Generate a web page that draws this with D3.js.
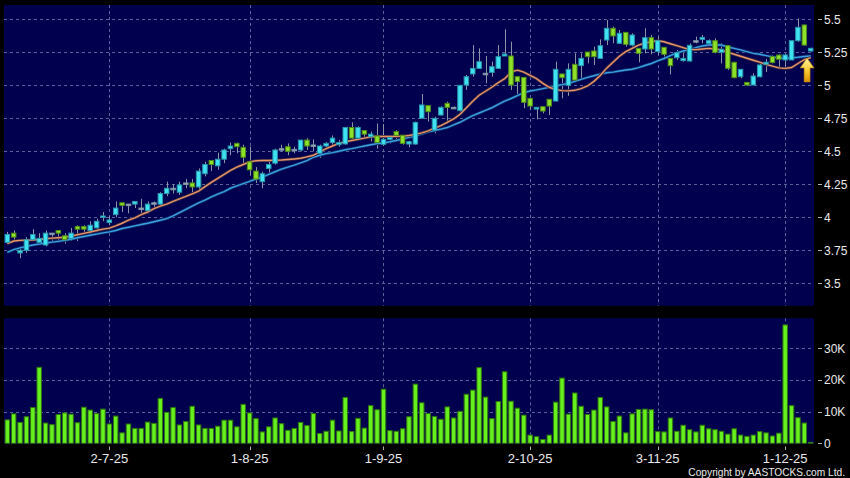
<!DOCTYPE html>
<html><head><meta charset="utf-8">
<script src="https://cdn.jsdelivr.net/npm/d3@7/dist/d3.min.js"></script>
<style>
html,body{margin:0;padding:0;background:#000;}
svg{display:block;}
</style></head><body>
<svg id="chart" width="850" height="478"></svg>
<script>
// ---- data ----
const opens = [3.81,3.88,3.73,3.75,3.83,3.81,3.79,3.88,3.90,3.86,3.84,3.93,3.93,3.90,3.92,4.00,3.96,4.02,4.11,4.10,4.10,4.07,4.05,4.11,4.10,4.18,4.22,4.19,4.26,4.26,4.23,4.33,4.43,4.39,4.44,4.52,4.56,4.53,4.42,4.35,4.27,4.37,4.41,4.52,4.535,4.515,4.51,4.585,4.548,4.485,4.54,4.566,4.55,4.556,4.68,4.60,4.657,4.61,4.616,4.553,4.59,4.649,4.621,4.555,4.555,4.75,4.846,4.661,4.775,4.863,4.833,4.808,5.002,5.086,5.128,5.091,5.098,5.128,5.222,5.222,5.065,5.060,4.901,4.82,4.838,4.894,4.881,5.086,5.0,5.159,5.149,5.252,5.26,5.204,5.343,5.432,5.318,5.401,5.305,5.280,5.275,5.361,5.255,5.288,5.204,5.209,5.187,5.184,5.338,5.348,5.318,5.338,5.25,5.30,5.174,5.065,5.022,5.002,5.065,5.16,5.217,5.229,5.192,5.192,5.338,5.457,5.26];
const highs = [3.89,3.90,3.78,3.85,3.91,3.88,3.90,3.88,3.90,3.88,3.92,3.94,3.94,3.97,3.99,4.04,4.01,4.12,4.11,4.10,4.12,4.14,4.12,4.12,4.19,4.27,4.25,4.27,4.29,4.29,4.37,4.42,4.43,4.49,4.52,4.566,4.566,4.55,4.535,4.38,4.346,4.42,4.52,4.55,4.56,4.535,4.586,4.60,4.59,4.55,4.57,4.62,4.586,4.685,4.72,4.69,4.657,4.65,4.71,4.707,4.62,4.66,4.625,4.58,4.725,4.934,4.846,4.762,4.84,4.876,4.84,5.002,5.078,5.305,5.28,5.222,5.179,5.305,5.424,5.33,5.065,5.06,4.901,4.833,4.838,4.894,5.179,5.086,5.166,5.242,5.242,5.252,5.293,5.348,5.495,5.444,5.419,5.401,5.394,5.280,5.432,5.381,5.369,5.288,5.204,5.267,5.255,5.318,5.369,5.381,5.348,5.356,5.318,5.30,5.179,5.121,5.025,5.091,5.17,5.20,5.23,5.235,5.235,5.34,5.507,5.46,5.285];
const lows = [3.80,3.83,3.69,3.73,3.82,3.79,3.78,3.82,3.82,3.80,3.82,3.82,3.87,3.87,3.89,3.97,3.94,4.00,4.04,4.03,4.07,4.03,4.03,4.06,4.09,4.16,4.18,4.17,4.22,4.19,4.21,4.31,4.35,4.36,4.41,4.47,4.485,4.40,4.32,4.26,4.22,4.33,4.40,4.50,4.47,4.485,4.50,4.51,4.50,4.45,4.51,4.535,4.535,4.55,4.595,4.586,4.61,4.575,4.52,4.54,4.56,4.58,4.55,4.53,4.55,4.75,4.725,4.636,4.77,4.707,4.82,4.80,4.965,5.065,5.128,5.015,5.065,5.128,5.222,4.965,4.926,4.826,4.813,4.742,4.788,4.775,4.876,4.901,4.92,5.035,5.053,5.166,5.154,5.204,5.305,5.318,5.318,5.293,5.293,5.174,5.242,5.235,5.23,5.217,5.083,5.192,5.179,5.179,5.318,5.318,5.305,5.242,5.166,5.116,5.053,5.053,4.995,5.002,5.06,5.10,5.166,5.13,5.14,5.19,5.33,5.30,5.255];
const closes = [3.87,3.85,3.75,3.83,3.87,3.84,3.88,3.88,3.88,3.83,3.88,3.91,3.91,3.94,3.97,4.01,3.98,4.07,4.09,4.10,4.12,4.07,4.10,4.11,4.18,4.22,4.22,4.245,4.26,4.23,4.35,4.40,4.40,4.44,4.51,4.54,4.535,4.455,4.36,4.29,4.33,4.40,4.51,4.52,4.50,4.515,4.585,4.54,4.548,4.54,4.56,4.60,4.566,4.68,4.60,4.68,4.63,4.63,4.566,4.591,4.605,4.621,4.560,4.573,4.719,4.851,4.80,4.75,4.833,4.833,4.833,5.0,5.065,5.128,5.179,5.091,5.141,5.217,5.237,5.002,5.028,4.871,4.843,4.833,4.805,4.843,5.121,5.058,5.121,5.040,5.204,5.217,5.217,5.30,5.432,5.374,5.394,5.310,5.381,5.242,5.361,5.275,5.338,5.235,5.149,5.247,5.204,5.303,5.338,5.363,5.338,5.250,5.273,5.129,5.058,5.121,5.002,5.070,5.154,5.175,5.172,5.197,5.23,5.338,5.439,5.305,5.28];
const volumes = [7400,9300,6600,8400,11300,24000,6400,5900,9100,9600,9200,6500,11400,10500,9400,10800,6100,8600,3300,6100,4700,4700,6700,6300,14200,9800,11300,5800,6900,11700,5800,4700,4700,5400,7300,7300,5200,12300,9600,7800,3600,5200,8000,
  6200,4100,4700,6600,5600,9400,3100,3800,7300,3900,14500,3700,7900,4800,11900,10600,
  17100,4000,3800,4600,8400,18700,12800,9400,8500,7600,11500,8000,10100,15500,16800,23900,14600,7800,13200,22600,13300,11100,8900,2600,2100,
  1200,2600,13000,20600,9200,15900,11700,9100,10500,14500,11500,6900,8600,3300,9300,10700,10800,10600,3700,3600,8000,3800,5700,4300,3600,5700,4600,4300,3800,2900,4600,2600,2200,2600,3700,3300,2300,3200,37400,11900,8100,6400,300];
const ma10 = [3.80,3.82,3.825,3.827,3.828,3.832,3.838,3.842,3.845,3.849,3.857,3.868,3.878,3.889,3.900,3.910,3.918,3.935,3.955,3.978,3.995,4.02,4.04,4.065,4.085,4.10,4.12,4.14,4.158,4.178,4.198,4.232,4.265,4.295,4.325,4.355,4.38,4.40,4.42,4.428,4.43,4.43,4.432,4.434,4.438,4.442,4.447,4.458,4.47,4.495,4.52,4.54,4.56,4.572,4.582,4.59,4.60,4.61,4.612,4.613,4.612,4.613,4.615,4.62,4.628,4.64,4.655,4.675,4.695,4.72,4.745,4.78,4.83,4.88,4.925,4.955,4.985,5.02,5.05,5.10,5.115,5.10,5.075,5.05,5.015,4.985,4.967,4.96,4.958,4.962,4.975,4.995,5.03,5.075,5.13,5.175,5.22,5.255,5.28,5.305,5.32,5.33,5.337,5.33,5.315,5.30,5.285,5.27,5.27,5.275,5.28,5.275,5.268,5.25,5.235,5.22,5.205,5.19,5.175,5.158,5.145,5.132,5.128,5.135,5.165,5.195,5.21];
const ma20 = [3.735,3.755,3.768,3.78,3.79,3.797,3.805,3.812,3.818,3.825,3.834,3.845,3.855,3.864,3.873,3.882,3.89,3.90,3.915,3.925,3.935,3.945,3.955,3.966,3.978,3.99,4.01,4.035,4.06,4.085,4.11,4.13,4.155,4.175,4.195,4.22,4.238,4.255,4.272,4.29,4.305,4.325,4.345,4.365,4.38,4.395,4.412,4.43,4.455,4.47,4.482,4.49,4.50,4.512,4.52,4.53,4.54,4.55,4.558,4.563,4.572,4.582,4.593,4.605,4.618,4.633,4.648,4.658,4.668,4.68,4.70,4.72,4.745,4.77,4.79,4.81,4.83,4.855,4.88,4.90,4.922,4.945,4.957,4.965,4.975,4.985,4.995,5.005,5.015,5.03,5.045,5.06,5.072,5.085,5.095,5.10,5.108,5.116,5.122,5.134,5.15,5.165,5.185,5.203,5.225,5.245,5.26,5.27,5.285,5.298,5.305,5.307,5.305,5.29,5.28,5.268,5.255,5.242,5.235,5.225,5.215,5.207,5.205,5.208,5.212,5.218,5.222];
const priceTicks = [3.5,3.75,4,4.25,4.5,4.75,5,5.25,5.5];
const priceTickLabels = ["3.5","3.75","4","4.25","4.5","4.75","5","5.25","5.5"];
const volumeTicks = [0,10000,20000,30000];
const volumeTickLabels = ["0","10K","20K","30K"];
const dateTickIndex = [16,38,59,82,102,122];
const dateTickLabels = ["2-7-25","1-8-25","1-9-25","2-10-25","3-11-25","1-12-25"];
const signalLevel = 5.207; // yellow arrow tip on the last bar

// ---- layout ----
const svg = d3.select("#chart");
const W = 850, H = 478;
const P = {left:4, right:814, top:5, bottom:305.7};
const V = {top:318.3, bottom:443.8};
const FONT = "'Liberation Sans', Arial, sans-serif";
const NAVY = "#00004e";

const bars = d3.range(opens.length);
const x = d3.scaleBand().domain(bars).range([P.left, P.right]).paddingInner(0.14).paddingOuter(0.09);
const bw = x.bandwidth();
const cx = i => x(i) + bw / 2;
const y = d3.scaleLinear().domain([3.5, 5.5]).range([283.3, 19.3]);
const yv = d3.scaleLinear().domain([0, 39500]).range([443.3, 318.3]);

svg.append("rect").attr("width", W).attr("height", H).attr("fill", "#000");
const defs = svg.append("defs");
defs.append("clipPath").attr("id","cp").append("rect")
  .attr("x",P.left).attr("y",P.top).attr("width",P.right-P.left).attr("height",P.bottom-P.top);
defs.append("clipPath").attr("id","cv").append("rect")
  .attr("x",P.left).attr("y",V.top).attr("width",P.right-P.left).attr("height",V.bottom-V.top);
const grad = defs.append("linearGradient").attr("id","ag").attr("x1",0).attr("y1",0).attr("x2",0).attr("y2",1);
grad.append("stop").attr("offset","0%").attr("stop-color","#fff4a0");
grad.append("stop").attr("offset","55%").attr("stop-color","#f7c830");
grad.append("stop").attr("offset","100%").attr("stop-color","#d89000");

svg.append("rect").attr("x",P.left).attr("y",P.top).attr("width",P.right-P.left).attr("height",P.bottom-P.top).attr("fill",NAVY);
svg.append("rect").attr("x",P.left).attr("y",V.top).attr("width",P.right-P.left).attr("height",V.bottom-V.top).attr("fill",NAVY);

const GRID = "#56639a";
// horizontal grid (price)
svg.append("g").selectAll("line").data(priceTicks).join("line")
  .attr("x1",P.left).attr("x2",P.right).attr("y1",d=>Math.round(y(d))+0.5).attr("y2",d=>Math.round(y(d))+0.5)
  .attr("stroke",GRID).attr("stroke-dasharray","3,3");
// horizontal grid (volume)
svg.append("g").selectAll("line").data(volumeTicks.slice(1)).join("line")
  .attr("x1",P.left).attr("x2",P.right).attr("y1",d=>Math.round(yv(d))+0.5).attr("y2",d=>Math.round(yv(d))+0.5)
  .attr("stroke",GRID).attr("stroke-dasharray","3,3");
// vertical grid
[[P.top,P.bottom],[V.top,V.bottom]].forEach(([a,b])=>{
  svg.append("g").selectAll("line").data(dateTickIndex).join("line")
    .attr("x1",i=>Math.round(cx(i))+0.5).attr("x2",i=>Math.round(cx(i))+0.5).attr("y1",a).attr("y2",b)
    .attr("stroke",GRID).attr("stroke-dasharray","3,3");
});

// ---- candles ----
const UPF="#3ee2f2", UPS="#2a96ac", DNF="#8ee22a", DNS="#4f8c1a", FLF="#9fb4c6";
const gp = svg.append("g").attr("clip-path","url(#cp)");
gp.append("g").selectAll("line").data(bars).join("line")
  .attr("x1",i=>Math.round(cx(i))+0.5).attr("x2",i=>Math.round(cx(i))+0.5)
  .attr("y1",i=>y(highs[i])).attr("y2",i=>y(lows[i]))
  .attr("stroke","#8a93a8").attr("stroke-width",1);

// moving averages
const line = d3.line().x((d,i)=>cx(i)).y(d=>y(d)).curve(d3.curveLinear);
gp.append("path").attr("d",line(ma20)).attr("fill","none").attr("stroke","#10306a").attr("stroke-width",3);
gp.append("path").attr("d",line(ma20)).attr("fill","none").attr("stroke","#3a9fe4").attr("stroke-width",1.4);
gp.append("path").attr("d",line(ma10)).attr("fill","none").attr("stroke","#3a2a40").attr("stroke-width",3);
gp.append("path").attr("d",line(ma10)).attr("fill","none").attr("stroke","#e8946c").attr("stroke-width",1.4);

gp.append("g").selectAll("rect").data(bars).join("rect")
  .attr("x",i=>x(i)+0.5).attr("width",bw-1)
  .attr("y",i=>y(Math.max(opens[i],closes[i])))
  .attr("height",i=>Math.max(1.5, Math.abs(y(opens[i])-y(closes[i]))))
  .attr("fill",i=>closes[i]>opens[i]?UPF:closes[i]<opens[i]?DNF:FLF)
  .attr("stroke",i=>closes[i]>opens[i]?UPS:closes[i]<opens[i]?DNS:"#7f94a6")
  .attr("stroke-width",1);

// signal arrow at last bar
const last = bars[bars.length-1];
const ax = cx(last) - 3.6, ay = y(signalLevel);
svg.append("path")
  .attr("d", d3.line()([[ax,ay],[ax+7,ay+10],[ax+3,ay+10],[ax+3,ay+24],[ax-3,ay+24],[ax-3,ay+10],[ax-7,ay+10]]) + "Z")
  .attr("fill","url(#ag)").attr("stroke","#b07a00").attr("stroke-width",0.6);

// ---- volume ----
const gv = svg.append("g").attr("clip-path","url(#cv)");
gv.selectAll("rect").data(bars).join("rect")
  .attr("x",i=>x(i)+0.5).attr("width",bw-1)
  .attr("y",i=>yv(volumes[i])).attr("height",i=>Math.max(0.5, yv(0)-yv(volumes[i])))
  .attr("fill","#66f01e").attr("stroke","#2f7410").attr("stroke-width",1);

// ---- right axes ----
const TXT = "#e9e9e9";
function rightAxis(ticks, labels, scale){
  const g = svg.append("g");
  g.selectAll("line").data(ticks).join("line")
    .attr("x1",818).attr("x2",822).attr("y1",d=>Math.round(scale(d))+0.5).attr("y2",d=>Math.round(scale(d))+0.5)
    .attr("stroke","#b0b0b0");
  g.selectAll("text").data(ticks).join("text")
    .attr("x",824).attr("y",d=>scale(d)+4.3).text((d,i)=>labels[i])
    .attr("fill",TXT).attr("font-family",FONT).attr("font-size","12px");
}
rightAxis(priceTicks, priceTickLabels, y);
rightAxis(volumeTicks, volumeTickLabels, yv);

// ---- bottom axis ----
const gx = svg.append("g");
gx.selectAll("line").data(dateTickIndex).join("line")
  .attr("x1",i=>Math.round(cx(i))+0.5).attr("x2",i=>Math.round(cx(i))+0.5).attr("y1",446.5).attr("y2",450)
  .attr("stroke","#b0b0b0");
gx.selectAll("text").data(dateTickIndex).join("text")
  .attr("x",i=>cx(i)).attr("y",462.5).attr("text-anchor","middle").text((d,k)=>dateTickLabels[k])
  .attr("fill",TXT).attr("font-family",FONT).attr("font-size","13px");

svg.append("text").attr("x",845).attr("y",476).attr("text-anchor","end")
  .text("Copyright by AASTOCKS.com Ltd.").attr("fill",TXT).attr("font-family",FONT).attr("font-size","10.2px");
</script>
</body></html>
